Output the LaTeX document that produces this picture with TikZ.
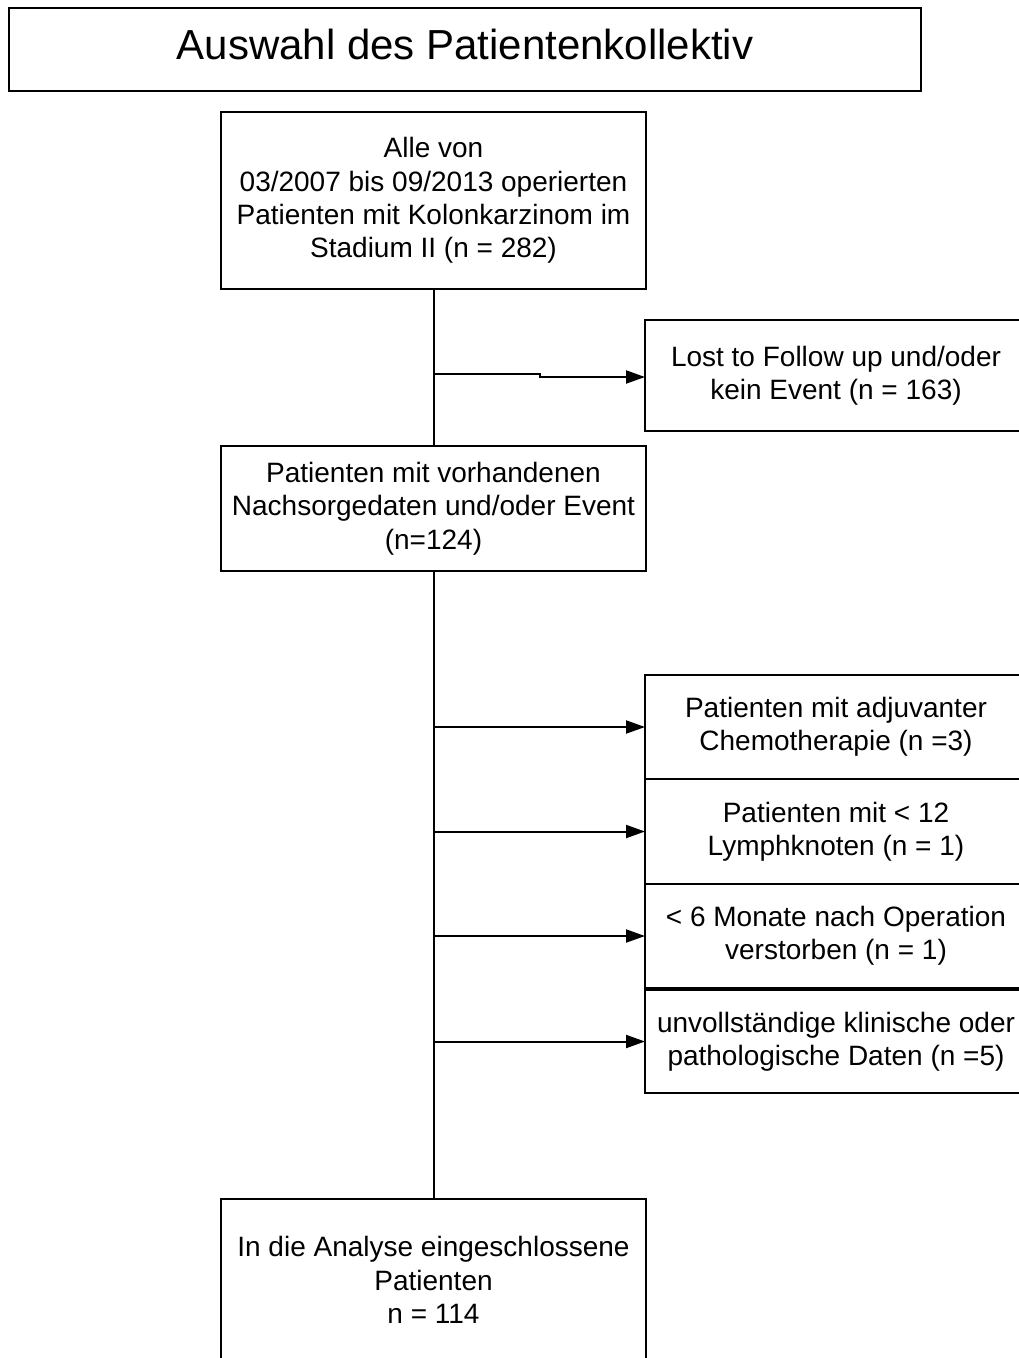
\documentclass[tikz,border=0pt]{standalone}
\usepackage{fontspec}
\setmainfont{Liberation Sans}
\usetikzlibrary{arrows.meta}
\begin{document}
\begin{tikzpicture}[x=1pt,y=-1pt,
  box/.style={draw,line width=2pt,inner sep=0pt,outer sep=0pt,align=center,font=\fontsize{28}{33.3}\selectfont},
  link/.style={line width=2pt},
  arr/.style={line width=2pt,-{Triangle[length=19pt,width=13pt]}}]
\useasboundingbox[fill=white] (0,0) rectangle (1018,1358);
\node[box,minimum width=912,minimum height=83] (title) at (465,49.5) {};
\node[inner sep=0pt,font=\fontsize{42}{50}\selectfont] (titletext) at (465,44) {Auswahl des Patientenkollektiv};
\node[box,minimum width=425,minimum height=177] (b1) at (433.5,200.5) {Alle von\\03/2007 bis 09/2013 operierten\\Patienten mit Kolonkarzinom im\\Stadium II (n = 282)};
\node[box,minimum width=382,minimum height=111] (lost) at (836,375.5) {Lost to Follow up und/oder\\kein Event (n = 163)};
\node[box,minimum width=425,minimum height=125] (b2) at (433.5,508.5) {Patienten mit vorhandenen\\Nachsorgedaten und/oder Event\\(n=124)};
\node[box,minimum width=382,minimum height=104] (r1) at (836,727) {Patienten mit adjuvanter\\Chemotherapie (n =3)};
\node[box,minimum width=382,minimum height=105] (r2) at (836,831.5) {Patienten mit < 12\\Lymphknoten (n = 1)};
\node[box,minimum width=382,minimum height=104] (r3) at (836,936) {< 6 Monate nach Operation\\verstorben (n = 1)};
\node[box,minimum width=382,minimum height=103] (r4) at (836,1041.5) {unvollständige klinische oder\\pathologische Daten (n =5)};
\node[box,minimum width=425,minimum height=162] (b3) at (433.5,1280) {In die Analyse eingeschlossene\\Patienten\\n = 114};
\draw[link] (b1.south) -- (b2.north);
\draw[link] (b2.south) -- (b3.north);
\coordinate (k1) at (540,374);
\coordinate (k2) at (540,377);
\draw[arr] (b1.south |- k1) -- (k1) -- (k2) -- (lost.west |- k2);
\draw[arr] (b2.south |- r1.west) -- (r1.west);
\draw[arr] (b2.south |- r2.west) -- (r2.west);
\draw[arr] (b2.south |- r3.west) -- (r3.west);
\draw[arr] (b2.south |- r4.west) -- (r4.west);
\end{tikzpicture}
\end{document}
